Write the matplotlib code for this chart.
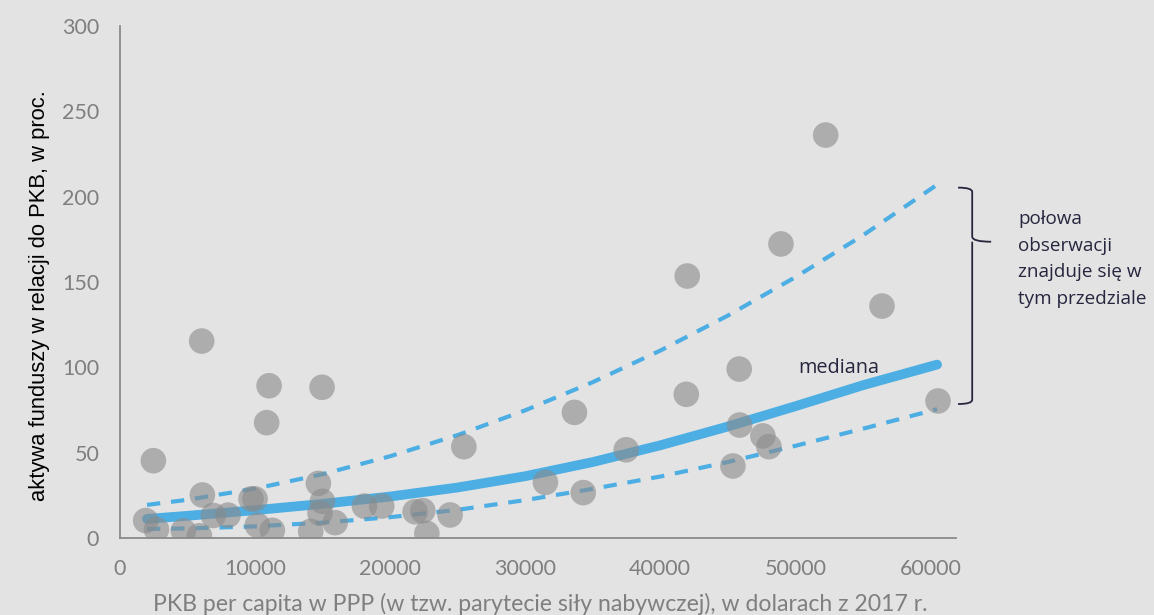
import numpy as np
import matplotlib.pyplot as plt
from matplotlib.path import Path
from matplotlib.patches import PathPatch

# PKB per capita (USD, PPP 2017) i aktywa funduszy (% PKB) dla poszczególnych krajów
pkb = np.array([2470, 6050, 11040, 14960, 10860, 25460, 1900, 2700, 4690, 5880,
                6100, 6910, 8000, 9700, 10000, 10170, 11280, 14120, 14690, 14990,
                14810, 15930, 18100, 19380, 21850, 22420, 22720, 24440, 31500, 33650,
                34300, 37480, 41930, 42000, 45850, 45880, 45380, 47600, 48050, 48940,
                52250, 56420, 60570])
aktywa = np.array([45.3, 115.4, 89.2, 88.3, 67.6, 53.5, 10.2, 5.0, 4.2, 1.3,
                   25.2, 13.2, 13.4, 22.9, 22.9, 7.5, 4.5, 3.9, 32.0, 21.5,
                   14.5, 9.0, 18.7, 18.7, 15.4, 16.0, 2.7, 13.5, 32.6, 73.6,
                   26.6, 51.7, 84.2, 153.5, 99.0, 66.2, 42.2, 59.8, 53.5, 172.3,
                   236.1, 135.9, 80.3])

# mediana oraz granice przedziału (połowa obserwacji)
krzywa_x = np.array([2000, 5000, 10000, 15000, 20000, 25000, 30000, 35000,
                     40000, 45000, 50000, 55000, 60500])
mediana = np.array([11.2, 13.0, 16.3, 20.0, 24.3, 29.6, 36.2, 44.5,
                    54.3, 65.3, 77.2, 89.5, 101.6])
gorna = np.array([19.4, 22.4, 28.9, 37.4, 47.9, 60.3, 74.8, 91.3,
                  109.8, 130.3, 152.8, 177.3, 207.0])
dolna = np.array([5.3, 5.6, 6.8, 9.0, 12.2, 16.5, 22.2, 28.8,
                  36.0, 44.5, 54.0, 64.0, 75.5])

tlo = "#e3e3e3"
niebieski = "#4daee3"
szary = "#8a8a8a"
granat = "#26263f"

fig = plt.figure(figsize=(11.54, 6.15), dpi=100, facecolor=tlo)
ax = fig.add_axes([120/1154, 77/615, 836/1154, 512/615], facecolor=tlo)

ax.plot(krzywa_x, gorna, "--", color=niebieski, linewidth=3, dashes=(3.2, 2.6))
ax.plot(krzywa_x, dolna, "--", color=niebieski, linewidth=3, dashes=(3.2, 2.6))
ax.plot(krzywa_x, mediana, "-", color=niebieski, linewidth=7, solid_capstyle="round")
ax.scatter(pkb, aktywa, s=340, color="#8a8a8a", alpha=0.6, edgecolors="none", zorder=3)

ax.set_xlim(0, 61900)
ax.set_ylim(0, 300)
ax.set_xticks(np.arange(0, 60001, 10000))
ax.set_yticks(np.arange(0, 301, 50))

for s in ["top", "right"]:
    ax.spines[s].set_visible(False)
for s in ["left", "bottom"]:
    ax.spines[s].set_color(szary)
    ax.spines[s].set_linewidth(1.3)
ax.tick_params(length=0, labelsize=15.5, labelcolor="#7f7f7f", pad=15)
for lab in ax.get_xticklabels() + ax.get_yticklabels():
    lab.set_family("Lato")

fig.text(40/1154, 1 - 296/615, "aktywa funduszy w relacji do PKB, w proc.",
         rotation=90, ha="center", va="center", fontsize=15.8,
         family="Liberation Sans", color="black")
fig.text(540/1154, 1 - 604/615,
         "PKB per capita w PPP (w tzw. parytecie siły nabywczej), w dolarach z 2017 r.",
         ha="center", va="center", fontsize=16.6, family="Lato", color="#7f7f7f")

ax.text(50200, 99.5, "mediana", ha="left", va="center", fontsize=14.3,
        family="Open Sans", color=granat)
fig.text(1018/1154, 1 - 259/615, "połowa\nobserwacji\nznajduje się w\ntym przedziale",
         ha="left", va="center", fontsize=13.6, family="Open Sans", color=granat,
         linespacing=1.6)

# klamra obejmująca przedział
kx0, kx1, kx2 = 62050, 63100, 64500
kg, kt, kd = 205.3, 173.6, 78.5
wierzch = [(kx0, kg), (kx1, kg), (kx1, kg - 2.5), (kx1, kt + 3),
           (kx1, kt), (kx2, kt), (kx1, kt), (kx1, kt - 3),
           (kx1, kd + 2.5), (kx1, kd), (kx0, kd)]
kody = [Path.MOVETO, Path.CURVE3, Path.CURVE3, Path.LINETO,
        Path.CURVE3, Path.CURVE3, Path.MOVETO, Path.CURVE3,
        Path.LINETO, Path.CURVE3, Path.CURVE3]
ax.add_patch(PathPatch(Path(wierzch, kody), facecolor="none", edgecolor=granat,
                       linewidth=1.3, clip_on=False))

plt.savefig("out.png", dpi=100, facecolor=tlo)
